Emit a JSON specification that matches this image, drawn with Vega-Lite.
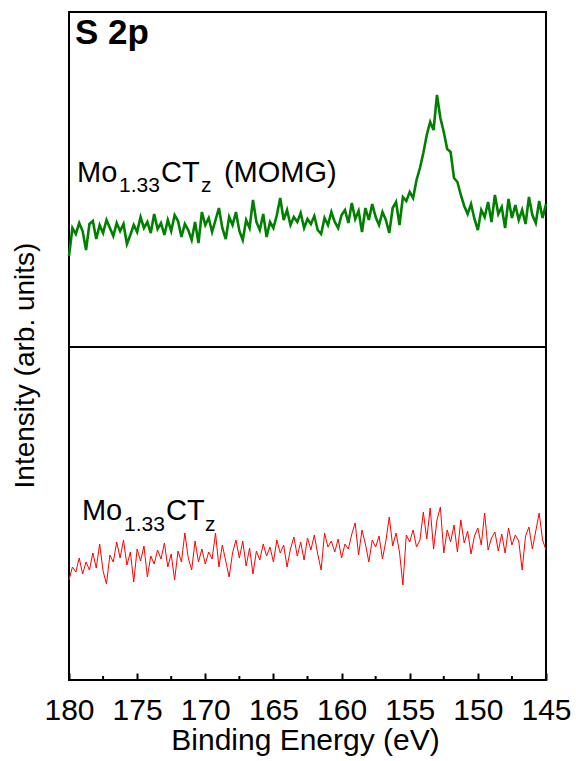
{
  "$schema": "https://vega.github.io/schema/vega-lite/v6.json",
  "width": 477,
  "height": 668,
  "autosize": {"type": "none"},
  "padding": {"left": 69, "top": 12, "right": 30, "bottom": 81},
  "background": "white",
  "config": {
    "view": {"stroke": "black", "strokeWidth": 2},
    "font": "Liberation Sans",
    "axis": {"grid": false, "domain": false, "labelFont": "Liberation Sans", "titleFont": "Liberation Sans", "labelColor": "black", "titleColor": "black", "titleFontWeight": "normal"},
    "axisX": {"tickCount": 7, "tickSize": -7, "tickWidth": 2, "tickColor": "black", "labelFontSize": 30, "labelBaseline": "alphabetic", "labelPadding": 46, "labelFlush": false, "labelOverlap": false, "format": "d", "titleFontSize": 30, "titleBaseline": "alphabetic", "titleAlign": "center", "titleX": 236, "titleY": 69},
    "axisY": {"ticks": false, "labels": false, "titleFontSize": 28, "titleAngle": -90, "titleBaseline": "alphabetic", "titleAlign": "center", "titleX": -36, "titleY": 353}
  },
  "datasets": {
    "momg": [
      {"e":180,"i":424},{"e":179.75,"i":452},{"e":179.5,"i":446},{"e":179.25,"i":457},{"e":179,"i":449},{"e":178.75,"i":430},{"e":178.5,"i":456},{"e":178.25,"i":459},{"e":178,"i":441},{"e":177.75,"i":455},
      {"e":177.5,"i":447},{"e":177.25,"i":460},{"e":177,"i":452},{"e":176.75,"i":444},{"e":176.5,"i":457},{"e":176.25,"i":449},{"e":176,"i":456},{"e":175.75,"i":436},{"e":175.5,"i":445},{"e":175.25,"i":455},
      {"e":175,"i":448},{"e":174.75,"i":463},{"e":174.5,"i":452},{"e":174.25,"i":458},{"e":174,"i":447},{"e":173.75,"i":466},{"e":173.5,"i":451},{"e":173.25,"i":457},{"e":173,"i":445},{"e":172.75,"i":460},
      {"e":172.5,"i":449},{"e":172.25,"i":465},{"e":172,"i":459},{"e":171.75,"i":443},{"e":171.5,"i":456},{"e":171.25,"i":450},{"e":171,"i":440},{"e":170.75,"i":458},{"e":170.5,"i":437},{"e":170.25,"i":468},
      {"e":170,"i":455},{"e":169.75,"i":462},{"e":169.5,"i":448},{"e":169.25,"i":460},{"e":169,"i":472},{"e":168.75,"i":452},{"e":168.5,"i":441},{"e":168.25,"i":463},{"e":168,"i":455},{"e":167.75,"i":468},
      {"e":167.5,"i":449},{"e":167.25,"i":440},{"e":167,"i":460},{"e":166.75,"i":452},{"e":166.5,"i":480},{"e":166.25,"i":458},{"e":166,"i":450},{"e":165.75,"i":466},{"e":165.5,"i":443},{"e":165.25,"i":458},
      {"e":165,"i":452},{"e":164.75,"i":465},{"e":164.5,"i":482},{"e":164.25,"i":460},{"e":164,"i":470},{"e":163.75,"i":455},{"e":163.5,"i":463},{"e":163.25,"i":458},{"e":163,"i":467},{"e":162.75,"i":452},
      {"e":162.5,"i":461},{"e":162.25,"i":456},{"e":162,"i":464},{"e":161.75,"i":450},{"e":161.5,"i":446},{"e":161.25,"i":462},{"e":161,"i":455},{"e":160.75,"i":468},{"e":160.5,"i":458},{"e":160.25,"i":452},
      {"e":160,"i":465},{"e":159.75,"i":470},{"e":159.5,"i":457},{"e":159.25,"i":477},{"e":159,"i":461},{"e":158.75,"i":469},{"e":158.5,"i":448},{"e":158.25,"i":472},{"e":158,"i":460},{"e":157.75,"i":476},
      {"e":157.5,"i":463},{"e":157.25,"i":455},{"e":157,"i":468},{"e":156.75,"i":460},{"e":156.5,"i":447},{"e":156.25,"i":472},{"e":156,"i":478},{"e":155.75,"i":455},{"e":155.5,"i":483},{"e":155.25,"i":479},
      {"e":155,"i":488},{"e":154.75,"i":482},{"e":154.5,"i":500},{"e":154.25,"i":512},{"e":154,"i":527},{"e":153.75,"i":545},{"e":153.5,"i":558},{"e":153.25,"i":550},{"e":153,"i":585},{"e":152.75,"i":562},
      {"e":152.5,"i":548},{"e":152.25,"i":531},{"e":152,"i":528},{"e":151.75,"i":502},{"e":151.5,"i":498},{"e":151.25,"i":485},{"e":151,"i":474},{"e":150.75,"i":466},{"e":150.5,"i":476},{"e":150.25,"i":461},
      {"e":150,"i":450},{"e":149.75,"i":470},{"e":149.5,"i":463},{"e":149.25,"i":478},{"e":149,"i":458},{"e":148.75,"i":485},{"e":148.5,"i":466},{"e":148.25,"i":473},{"e":148,"i":452},{"e":147.75,"i":481},
      {"e":147.5,"i":462},{"e":147.25,"i":475},{"e":147,"i":460},{"e":146.75,"i":470},{"e":146.5,"i":456},{"e":146.25,"i":483},{"e":146,"i":465},{"e":145.75,"i":457},{"e":145.5,"i":479},{"e":145.25,"i":462},
      {"e":145,"i":476}
    ],
    "pristine": [
      {"e":180,"i":100},{"e":179.75,"i":113},{"e":179.5,"i":108},{"e":179.25,"i":122},{"e":179,"i":106},{"e":178.75,"i":118},{"e":178.5,"i":110},{"e":178.25,"i":127},{"e":178,"i":112},{"e":177.75,"i":136},
      {"e":177.5,"i":109},{"e":177.25,"i":96},{"e":177,"i":125},{"e":176.75,"i":118},{"e":176.5,"i":138},{"e":176.25,"i":122},{"e":176,"i":140},{"e":175.75,"i":115},{"e":175.5,"i":128},{"e":175.25,"i":98},
      {"e":175,"i":131},{"e":174.75,"i":119},{"e":174.5,"i":134},{"e":174.25,"i":103},{"e":174,"i":124},{"e":173.75,"i":116},{"e":173.5,"i":130},{"e":173.25,"i":121},{"e":173,"i":137},{"e":172.75,"i":113},
      {"e":172.5,"i":126},{"e":172.25,"i":100},{"e":172,"i":129},{"e":171.75,"i":118},{"e":171.5,"i":147},{"e":171.25,"i":122},{"e":171,"i":110},{"e":170.75,"i":139},{"e":170.5,"i":118},{"e":170.25,"i":131},
      {"e":170,"i":116},{"e":169.75,"i":128},{"e":169.5,"i":121},{"e":169.25,"i":147},{"e":169,"i":113},{"e":168.75,"i":135},{"e":168.5,"i":119},{"e":168.25,"i":103},{"e":168,"i":127},{"e":167.75,"i":140},
      {"e":167.5,"i":122},{"e":167.25,"i":139},{"e":167,"i":114},{"e":166.75,"i":132},{"e":166.5,"i":106},{"e":166.25,"i":129},{"e":166,"i":120},{"e":165.75,"i":136},{"e":165.5,"i":124},{"e":165.25,"i":133},
      {"e":165,"i":118},{"e":164.75,"i":140},{"e":164.5,"i":127},{"e":164.25,"i":135},{"e":164,"i":113},{"e":163.75,"i":131},{"e":163.5,"i":143},{"e":163.25,"i":124},{"e":163,"i":138},{"e":162.75,"i":120},
      {"e":162.5,"i":142},{"e":162.25,"i":130},{"e":162,"i":145},{"e":161.75,"i":126},{"e":161.5,"i":110},{"e":161.25,"i":147},{"e":161,"i":133},{"e":160.75,"i":139},{"e":160.5,"i":128},{"e":160.25,"i":141},
      {"e":160,"i":122},{"e":159.75,"i":136},{"e":159.5,"i":131},{"e":159.25,"i":146},{"e":159,"i":157},{"e":158.75,"i":125},{"e":158.5,"i":150},{"e":158.25,"i":136},{"e":158,"i":118},{"e":157.75,"i":140},
      {"e":157.5,"i":133},{"e":157.25,"i":144},{"e":157,"i":121},{"e":156.75,"i":139},{"e":156.5,"i":163},{"e":156.25,"i":134},{"e":156,"i":147},{"e":155.75,"i":128},{"e":155.5,"i":95},{"e":155.25,"i":145},
      {"e":155,"i":138},{"e":154.75,"i":150},{"e":154.5,"i":133},{"e":154.25,"i":140},{"e":154,"i":168},{"e":153.75,"i":141},{"e":153.5,"i":172},{"e":153.25,"i":131},{"e":153,"i":160},{"e":152.75,"i":173},
      {"e":152.5,"i":127},{"e":152.25,"i":150},{"e":152,"i":138},{"e":151.75,"i":155},{"e":151.5,"i":128},{"e":151.25,"i":160},{"e":151,"i":137},{"e":150.75,"i":149},{"e":150.5,"i":126},{"e":150.25,"i":144},
      {"e":150,"i":152},{"e":149.75,"i":135},{"e":149.5,"i":167},{"e":149.25,"i":130},{"e":149,"i":142},{"e":148.75,"i":148},{"e":148.5,"i":129},{"e":148.25,"i":146},{"e":148,"i":127},{"e":147.75,"i":152},
      {"e":147.5,"i":135},{"e":147.25,"i":145},{"e":147,"i":139},{"e":146.75,"i":110},{"e":146.5,"i":144},{"e":146.25,"i":153},{"e":146,"i":131},{"e":145.75,"i":149},{"e":145.5,"i":167},{"e":145.25,"i":140},
      {"e":145,"i":130}
    ],
    "minor": [{"e":177.5},{"e":172.5},{"e":167.5},{"e":162.5},{"e":157.5},{"e":152.5},{"e":147.5}],
    "mainlab": [
      {"e":179.41,"i":498,"t":"Mo"},{"e":173.25,"i":498,"t":"CT"},{"e":168.63,"i":498,"t":"(MOMG)"},
      {"e":179.05,"i":160,"t":"Mo"},{"e":172.88,"i":160,"t":"CT"}
    ],
    "sublab": [
      {"e":176.33,"i":488,"t":"1.33"},{"e":170.32,"i":488,"t":"z"},
      {"e":175.96,"i":149,"t":"1.33"},{"e":170.02,"i":149,"t":"z"}
    ],
    "paneltitle": [{"e":179.56,"i":636,"t":"S 2p"}]
  },
  "layer": [
    {
      "data": {"name": "momg"},
      "mark": {"type": "line", "color": "#008000", "strokeWidth": 2.6},
      "encoding": {
        "x": {"field": "e", "type": "quantitative", "scale": {"domain": [145, 180], "reverse": true, "nice": false}, "title": "Binding Energy (eV)"},
        "y": {"field": "i", "type": "quantitative", "scale": {"domain": [0, 668], "nice": false, "zero": false}, "title": "Intensity (arb. units)"}
      }
    },
    {
      "data": {"name": "pristine"},
      "mark": {"type": "line", "color": "#ff0000", "strokeWidth": 1},
      "encoding": {
        "x": {"field": "e", "type": "quantitative", "scale": {"domain": [145, 180], "reverse": true, "nice": false}, "title": "Binding Energy (eV)"},
        "y": {"field": "i", "type": "quantitative", "scale": {"domain": [0, 668], "nice": false, "zero": false}, "title": "Intensity (arb. units)"}
      }
    },
    {
      "data": {"values": [{}]},
      "mark": {"type": "rule", "color": "black", "strokeWidth": 2},
      "encoding": {
        "y": {"datum": 333, "type": "quantitative", "scale": {"domain": [0, 668], "nice": false, "zero": false}, "title": "Intensity (arb. units)"}
      }
    },
    {
      "data": {"name": "minor"},
      "mark": {"type": "rule", "color": "black", "strokeWidth": 2},
      "encoding": {
        "x": {"field": "e", "type": "quantitative", "scale": {"domain": [145, 180], "reverse": true, "nice": false}, "title": "Binding Energy (eV)"},
        "y": {"datum": 0, "type": "quantitative", "scale": {"domain": [0, 668], "nice": false, "zero": false}, "title": "Intensity (arb. units)"},
        "y2": {"datum": 4}
      }
    },
    {
      "data": {"name": "mainlab"},
      "mark": {"type": "text", "font": "Liberation Sans", "fontSize": 29, "align": "left", "baseline": "alphabetic", "color": "black"},
      "encoding": {
        "x": {"field": "e", "type": "quantitative", "scale": {"domain": [145, 180], "reverse": true, "nice": false}, "title": "Binding Energy (eV)"},
        "y": {"field": "i", "type": "quantitative", "scale": {"domain": [0, 668], "nice": false, "zero": false}, "title": "Intensity (arb. units)"},
        "text": {"field": "t"}
      }
    },
    {
      "data": {"name": "sublab"},
      "mark": {"type": "text", "font": "Liberation Sans", "fontSize": 21, "align": "left", "baseline": "alphabetic", "color": "black"},
      "encoding": {
        "x": {"field": "e", "type": "quantitative", "scale": {"domain": [145, 180], "reverse": true, "nice": false}, "title": "Binding Energy (eV)"},
        "y": {"field": "i", "type": "quantitative", "scale": {"domain": [0, 668], "nice": false, "zero": false}, "title": "Intensity (arb. units)"},
        "text": {"field": "t"}
      }
    },
    {
      "data": {"name": "paneltitle"},
      "mark": {"type": "text", "font": "Liberation Sans", "fontSize": 35, "fontWeight": "bold", "align": "left", "baseline": "alphabetic", "color": "black"},
      "encoding": {
        "x": {"field": "e", "type": "quantitative", "scale": {"domain": [145, 180], "reverse": true, "nice": false}, "title": "Binding Energy (eV)"},
        "y": {"field": "i", "type": "quantitative", "scale": {"domain": [0, 668], "nice": false, "zero": false}, "title": "Intensity (arb. units)"},
        "text": {"field": "t"}
      }
    }
  ]
}
